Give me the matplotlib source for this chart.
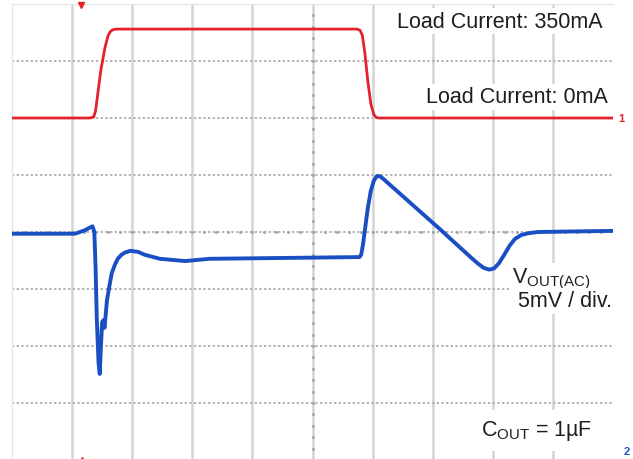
import matplotlib

matplotlib.use("Agg")

import matplotlib.pyplot as plt
import numpy as np

plt.rcParams["font.family"] = ["Liberation Sans", "DejaVu Sans"]
plt.rcParams["mathtext.fontset"] = "custom"
plt.rcParams["mathtext.rm"] = "Liberation Sans"

# scope screen: 10 horizontal divisions, 8 vertical divisions (centre = 0)
# load current trace (CH1), in divisions
load_t = [0.0, 1.30, 1.36, 1.39, 1.43, 1.48, 1.55, 1.60, 1.64, 1.68, 1.74, 1.85,
          5.74, 5.79, 5.83, 5.87, 5.92, 5.97, 6.02, 6.06, 6.10, 10.0]
load_v = [2.0, 2.0, 2.02, 2.12, 2.45, 2.85, 3.25, 3.45, 3.52, 3.55, 3.56, 3.56,
          3.56, 3.54, 3.45, 3.15, 2.65, 2.25, 2.06, 2.01, 2.0, 2.0]

# output voltage AC trace (CH2), in divisions
vout_t = [0.0, 1.05, 1.21, 1.30, 1.34, 1.37, 1.39, 1.41, 1.44, 1.46, 1.48, 1.50, 1.52,
          1.54, 1.58, 1.62, 1.66, 1.71, 1.76, 1.82, 1.88, 1.97, 2.10, 2.21, 2.46,
          2.88, 3.29, 4.13, 5.78, 5.81, 5.84, 5.88, 5.92, 5.97, 6.02, 6.07, 6.12,
          6.18, 7.12, 7.65, 7.76, 7.85, 7.94, 8.02, 8.10, 8.19, 8.28, 8.37, 8.48,
          8.60, 8.75, 10.0]
vout_v = [-0.03, -0.03, 0.03, 0.08, 0.10, 0.0, -0.60, -1.50, -2.30, -2.49, -2.0,
          -1.58, -1.55, -1.68, -1.20, -0.95, -0.72, -0.58, -0.47, -0.40, -0.36,
          -0.33, -0.35, -0.40, -0.47, -0.51, -0.47, -0.46, -0.44, -0.40, -0.22,
          0.10, 0.42, 0.72, 0.90, 0.98, 0.98, 0.93, 0.05, -0.46, -0.56, -0.63,
          -0.66, -0.64, -0.55, -0.40, -0.24, -0.12, -0.05, -0.02, 0.0, 0.02]

RED = "#e3222b"
BLUE = "#1a4fc4"
TEXT = "#1e1e1e"

fig = plt.figure(figsize=(6.33, 4.60), dpi=100)
ax = fig.add_axes([12 / 633, -1 / 460, 601 / 633, 456 / 460])
ax.set_xlim(0, 10)
ax.set_ylim(-4, 4)

# graticule
ax.set_xticks(np.arange(1, 10))
ax.set_yticks(np.arange(-3, 4))
ax.tick_params(length=0, labelbottom=False, labelleft=False)
ax.xaxis.grid(True, color="#d4d4d4", lw=1.8, ls="-")
ax.yaxis.grid(True, color="#b4b4b4", lw=1.4, ls=(0, (1.2, 1.2)))
ax.set_axisbelow(True)
for side in ["right", "bottom"]:
    ax.spines[side].set_visible(False)
for side in ["top", "left"]:
    ax.spines[side].set_color("#e6e6e6")
    ax.spines[side].set_linewidth(1.0)

# minor tick dots on centre axes
minor = np.arange(0.2, 10, 0.2)
ax.plot(minor, np.zeros_like(minor), ls="none", marker="o", ms=2.2, mew=0,
        color="#a8a8a8", zorder=1)
minor_y = np.arange(-3.8, 4, 0.2)
ax.plot(np.full_like(minor_y, 5.0), minor_y, ls="none", marker="o", ms=2.2, mew=0,
        color="#a8a8a8", zorder=1)

# traces
ax.plot(load_t, load_v, color=RED, lw=2.0, solid_joinstyle="round", zorder=3)
ax.plot(vout_t, vout_v, color=BLUE, lw=2.8, solid_joinstyle="round", zorder=3)

# annotations
box = dict(facecolor="white", edgecolor="none", pad=2)
ax.text(9.83, 3.70, "Load Current: 350mA", ha="right", va="center", fontsize=15.5,
        color=TEXT, bbox=box, zorder=4)
ax.text(9.92, 2.37, "Load Current: 0mA", ha="right", va="center", fontsize=15.5,
        color=TEXT, bbox=box, zorder=4)
ax.text(8.32, -0.82, r"V$_{\mathrm{OUT(AC)}}$", ha="left", va="center", fontsize=15.5,
        color=TEXT, bbox=box, zorder=4)
ax.text(9.98, -1.21, "5mV / div.", ha="right", va="center", fontsize=15.5,
        color=TEXT, bbox=box, zorder=4)
ax.text(7.80, -3.48, r"C$_{\mathrm{OUT}}$ = 1µF", ha="left", va="center", fontsize=15.5,
        color=TEXT, bbox=dict(facecolor="white", edgecolor="none", pad=6), zorder=4)

# channel / trigger markers around the screen
ax.plot([1.15], [3.98], marker="v", ms=4, color=RED, clip_on=False, zorder=5)
ax.plot([1.17], [-4.0], marker="^", ms=4, color=RED, clip_on=False, zorder=5)
ax.text(10.08, 2.0, "1", ha="left", va="center", fontsize=8, color=RED,
        fontweight="bold", clip_on=False)
ax.text(10.18, -3.85, "2", ha="left", va="center", fontsize=8, color=BLUE,
        fontweight="bold", clip_on=False)

fig.savefig("out.png", dpi=100)
